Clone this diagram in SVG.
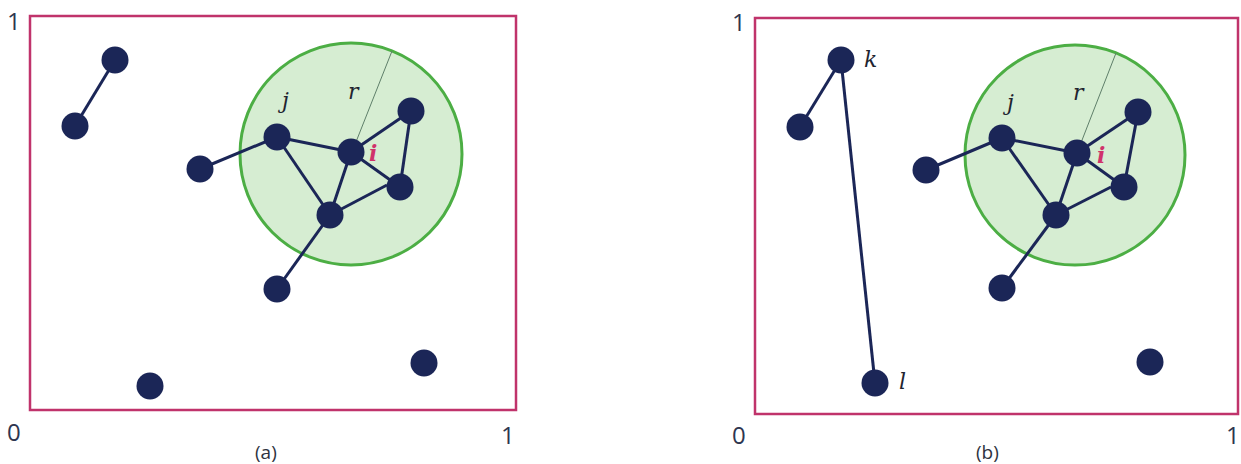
<svg xmlns="http://www.w3.org/2000/svg" width="1241" height="464" viewBox="0 0 1241 464">
<style>
.frame{fill:none;stroke:#c0336b;stroke-width:2.5}
.range{fill:#d6edd2;stroke:#4cae44;stroke-width:3}
.radius{stroke:#5f7f6a;stroke-width:1}
.edge{stroke:#1b2657;stroke-width:3;fill:none}
.node{fill:#1b2657}
.axis{font-family:"Open Sans","Liberation Sans",sans-serif;font-size:24px;fill:#2e3550}
.cap{font-family:"Open Sans","Liberation Sans",sans-serif;font-size:19px;fill:#2e3340}
.var{font-family:"DejaVu Serif","Liberation Serif",serif;font-style:italic;font-size:22px;fill:#1f2430}
.vi{fill:#d0336b;font-weight:bold}
</style>
<rect width="1241" height="464" fill="#ffffff"/>
<!-- Panel (a) -->
<g id="panel-a">
<rect class="frame" x="30" y="16" width="486" height="394"/>
<circle id="a-range" class="range" cx="351" cy="154" r="111"/>
<line class="radius" x1="352" y1="152" x2="392" y2="51"/>
<text class="axis" x="7" y="30">1</text>
<text class="axis" x="7" y="441">0</text>
<text class="axis" x="501" y="444">1</text>
<text class="cap" x="255" y="459">(a)</text>
</g>
<g id="a-connectors">
<line class="edge" x1="115" y1="60" x2="75" y2="126"/>
<line class="edge" x1="200" y1="169" x2="277" y2="137"/>
<line class="edge" x1="277" y1="137" x2="351" y2="152"/>
<line class="edge" x1="277" y1="137" x2="330" y2="215"/>
<line class="edge" x1="351" y1="152" x2="411" y2="111"/>
<line class="edge" x1="351" y1="152" x2="400" y2="187"/>
<line class="edge" x1="351" y1="152" x2="330" y2="215"/>
<line class="edge" x1="411" y1="111" x2="400" y2="187"/>
<line class="edge" x1="330" y1="215" x2="387" y2="185"/>
<line class="edge" x1="330" y1="215" x2="277" y2="289"/>
</g>
<g id="a-n1"><circle class="node" cx="115" cy="60" r="13.5"/></g>
<g id="a-n2"><circle class="node" cx="75" cy="126" r="13.5"/></g>
<g id="a-n3"><circle class="node" cx="200" cy="169" r="13.5"/></g>
<g id="a-j"><circle class="node" cx="277" cy="137" r="13.5"/><text class="var" x="282" y="108">j</text></g>
<g id="a-i"><circle class="node" cx="351" cy="152" r="13.5"/><text class="var vi" x="369" y="161">i</text></g>
<g id="a-r"><text class="var" x="348" y="99">r</text></g>
<g id="a-n4"><circle class="node" cx="411" cy="111" r="13.5"/></g>
<g id="a-n5"><circle class="node" cx="400" cy="187" r="13.5"/></g>
<g id="a-n6"><circle class="node" cx="330" cy="215" r="13.5"/></g>
<g id="a-n7"><circle class="node" cx="277" cy="289" r="13.5"/></g>
<g id="a-n8"><circle class="node" cx="150" cy="386" r="13.5"/></g>
<g id="a-n9"><circle class="node" cx="424" cy="363" r="13.5"/></g>
<!-- Panel (b) -->
<g id="panel-b">
<rect class="frame" x="755" y="18" width="483" height="396"/>
<circle id="b-range" class="range" cx="1075" cy="155" r="110"/>
<line class="radius" x1="1077" y1="153" x2="1116" y2="53"/>
<text class="axis" x="732" y="31">1</text>
<text class="axis" x="732" y="444">0</text>
<text class="axis" x="1226" y="444">1</text>
<text class="cap" x="976" y="459">(b)</text>
</g>
<g id="b-connectors">
<line class="edge" x1="841" y1="60" x2="800" y2="127"/>
<line class="edge" x1="841" y1="60" x2="875" y2="383"/>
<line class="edge" x1="926" y1="170" x2="1002" y2="138"/>
<line class="edge" x1="1002" y1="138" x2="1077" y2="153"/>
<line class="edge" x1="1002" y1="138" x2="1056" y2="215"/>
<line class="edge" x1="1077" y1="153" x2="1138" y2="112"/>
<line class="edge" x1="1077" y1="153" x2="1124" y2="187"/>
<line class="edge" x1="1077" y1="153" x2="1056" y2="215"/>
<line class="edge" x1="1138" y1="112" x2="1124" y2="187"/>
<line class="edge" x1="1056" y1="215" x2="1111" y2="187"/>
<line class="edge" x1="1056" y1="215" x2="1002" y2="288"/>
</g>
<g id="b-k"><circle class="node" cx="841" cy="60" r="13.5"/><text class="var" x="864" y="67">k</text></g>
<g id="b-n2"><circle class="node" cx="800" cy="127" r="13.5"/></g>
<g id="b-n3"><circle class="node" cx="926" cy="170" r="13.5"/></g>
<g id="b-j"><circle class="node" cx="1002" cy="138" r="13.5"/><text class="var" x="1007" y="110">j</text></g>
<g id="b-i"><circle class="node" cx="1077" cy="153" r="13.5"/><text class="var vi" x="1097" y="163">i</text></g>
<g id="b-r"><text class="var" x="1073" y="100">r</text></g>
<g id="b-n4"><circle class="node" cx="1138" cy="112" r="13.5"/></g>
<g id="b-n5"><circle class="node" cx="1124" cy="187" r="13.5"/></g>
<g id="b-n6"><circle class="node" cx="1056" cy="215" r="13.5"/></g>
<g id="b-n7"><circle class="node" cx="1002" cy="288" r="13.5"/></g>
<g id="b-l"><circle class="node" cx="875" cy="383" r="13.5"/><text class="var" x="899" y="389">l</text></g>
<g id="b-n9"><circle class="node" cx="1150" cy="362" r="13.5"/></g>
</svg>
